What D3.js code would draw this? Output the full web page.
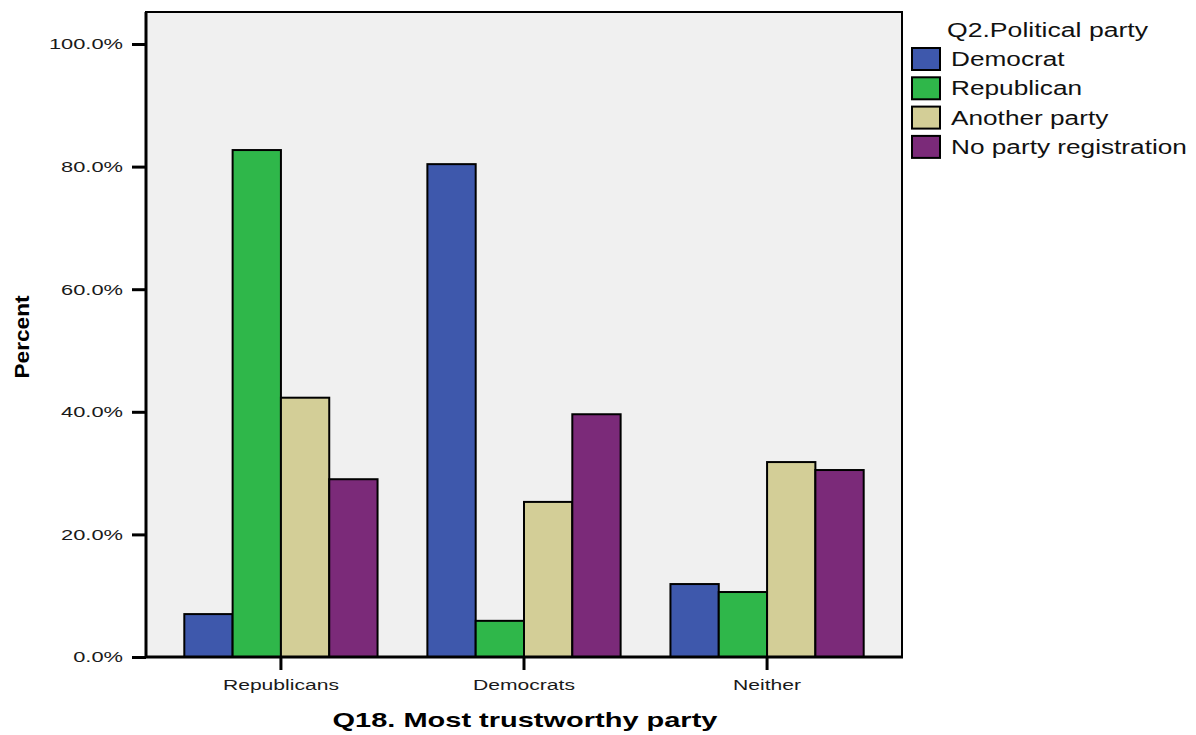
<!DOCTYPE html>
<html><head><meta charset="utf-8">
<script src="https://cdn.jsdelivr.net/npm/d3@7"></script>
<style>body{margin:0;background:#fff;} svg{display:block;font-family:"Liberation Sans",Arial,sans-serif;}</style>
</head><body>
<svg id="c" width="1196" height="735"></svg>
<script>
const categories = ["Republicans", "Democrats", "Neither"];
const seriesNames = ["Democrat", "Republican", "Another party", "No party registration"];
const democrat = [7.0, 80.4, 11.9];
const republican = [82.7, 5.9, 10.6];
const anotherParty = [42.3, 25.3, 31.8];
const noParty = [29.0, 39.6, 30.5];
const colors = ["#3e58ac", "#2fb74a", "#d3ce97", "#7b2a79"];
const yTicks = [0, 20, 40, 60, 80, 100];

const series = [democrat, republican, anotherParty, noParty];
const svg = d3.select("#c");
const L = 146, R = 902, T = 12, B = 657;

function stretch(sel, f) {
  sel.each(function () {
    const w = this.getComputedTextLength();
    d3.select(this).attr("textLength", w * f).attr("lengthAdjust", "spacingAndGlyphs");
  });
}

svg.append("rect").attr("x", L).attr("y", T).attr("width", R - L).attr("height", B - T)
  .attr("fill", "#f0f0f0").attr("stroke", "#000").attr("stroke-width", 2);

const y = d3.scaleLinear().domain([0, 100]).range([B, 44]);
const x0 = d3.scaleBand().domain(categories).range([160, 888]).paddingInner(0.205).paddingOuter(0.1);
const x1 = d3.scaleBand().domain(seriesNames).range([0, x0.bandwidth()]);

const groups = svg.append("g");
categories.forEach((c, ci) => {
  seriesNames.forEach((s, si) => {
    groups.append("rect")
      .attr("x", x0(c) + x1(s))
      .attr("y", y(series[si][ci]))
      .attr("width", x1.bandwidth())
      .attr("height", B - y(series[si][ci]))
      .attr("fill", colors[si]).attr("stroke", "#000").attr("stroke-width", 2);
  });
});

// Y axis
const yAxis = d3.axisLeft(y).tickValues(yTicks).tickSize(14).tickPadding(9)
  .tickFormat(d => d.toFixed(1) + "%");
const ya = svg.append("g").attr("transform", `translate(${L},0)`).call(yAxis);
ya.select(".domain").remove();
ya.selectAll("line").attr("stroke", "#000").attr("stroke-width", 3);
ya.selectAll("text").attr("font-size", 15.5).attr("fill", "#1a1a1a").attr("font-family", "Liberation Sans, Arial, sans-serif");
stretch(ya.selectAll("text"), 1.41);

// X axis
const xAxis = d3.axisBottom(x0).tickSize(13).tickPadding(9);
const xa = svg.append("g").attr("transform", `translate(0,${B})`).call(xAxis);
xa.select(".domain").remove();
xa.selectAll("line").attr("stroke", "#000").attr("stroke-width", 3);
xa.selectAll("text").attr("font-size", 15.5).attr("fill", "#1a1a1a").attr("font-family", "Liberation Sans, Arial, sans-serif");
stretch(xa.selectAll("text"), 1.36);

// frame edges on top
svg.append("line").attr("x1", L).attr("x2", R + 1).attr("y1", B).attr("y2", B).attr("stroke", "#000").attr("stroke-width", 3);
svg.append("line").attr("x1", L).attr("x2", L).attr("y1", T).attr("y2", B).attr("stroke", "#000").attr("stroke-width", 3);

// axis titles
const xt = svg.append("text").attr("x", 525).attr("y", 727).attr("text-anchor", "middle")
  .attr("font-size", 21).attr("font-weight", "bold").attr("fill", "#000").text("Q18. Most trustworthy party");
stretch(xt, 1.38);
const yt = svg.append("text").attr("transform", "translate(29,337) rotate(-90)").attr("text-anchor", "middle")
  .attr("font-size", 21).attr("font-weight", "bold").attr("fill", "#000").text("Percent");
stretch(yt, 1.08);

// legend
const lg = svg.append("g");
const lt = lg.append("text").attr("x", 947).attr("y", 37).attr("font-size", 20).attr("fill", "#111").text("Q2.Political party");
stretch(lt, 1.33);
seriesNames.forEach((s, i) => {
  const yy = 48 + i * 29.3;
  lg.append("rect").attr("x", 912).attr("y", yy).attr("width", 28).attr("height", 22)
    .attr("fill", colors[i]).attr("stroke", "#000").attr("stroke-width", 2);
  const t = lg.append("text").attr("x", 951).attr("y", yy + 18).attr("font-size", 20).attr("fill", "#111").text(s);
  stretch(t, 1.31);
});
</script>
</body></html>
